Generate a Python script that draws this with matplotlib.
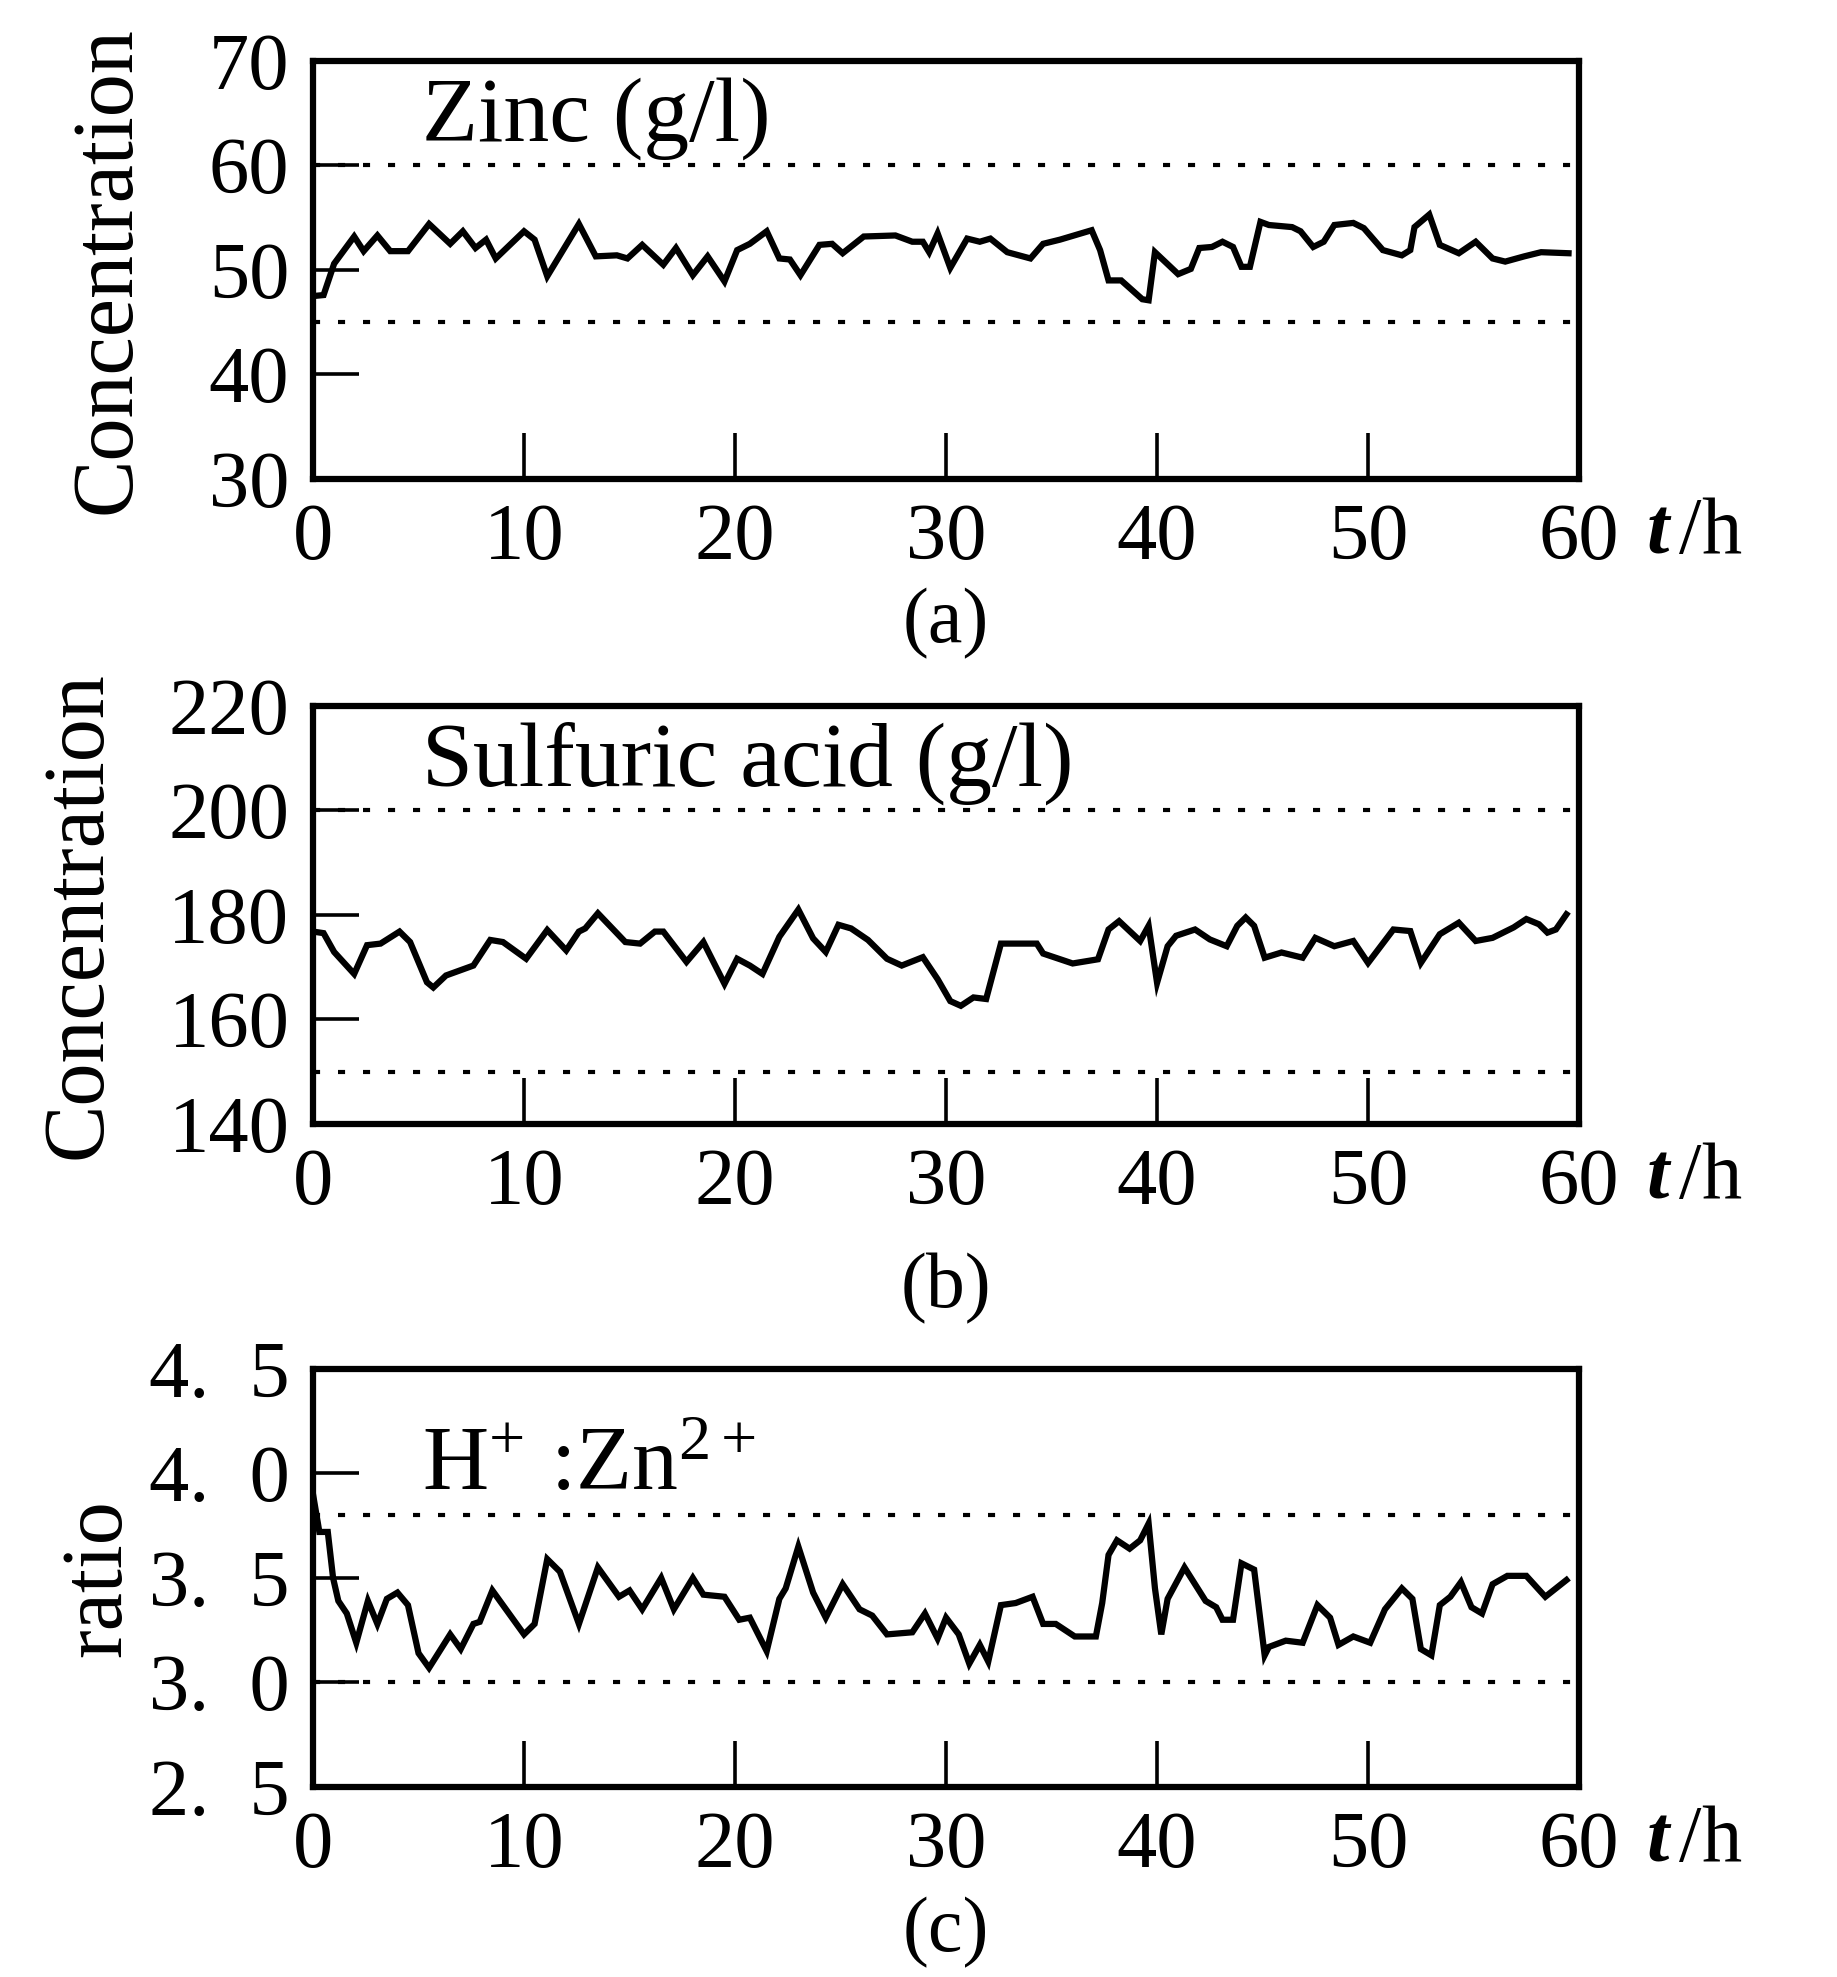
import matplotlib
matplotlib.use('Agg')
import matplotlib.pyplot as plt
import numpy as np

plt.rcParams['font.family'] = 'Liberation Serif'
plt.rcParams['mathtext.fontset'] = 'custom'
plt.rcParams['mathtext.rm'] = 'Liberation Serif'
plt.rcParams['mathtext.it'] = 'Liberation Serif:italic:bold'

# zinc concentration (g/l)
t_zinc = [0.0, 0.5, 1.0, 1.95, 2.4, 3.05, 3.66, 4.5, 5.5, 6.5, 7.1, 7.7, 8.2, 8.66,
          10.0, 10.5, 11.1, 12.6, 13.4, 14.4, 14.9, 15.6, 16.6, 17.2, 18.0, 18.7,
          19.5, 20.1, 20.7, 21.5, 22.1, 22.6, 23.1, 24.0, 24.6, 25.1, 26.1, 27.6,
          28.4, 28.9, 29.2, 29.6, 30.2, 31.0, 31.6, 32.1, 32.9, 34.0, 34.6, 35.4,
          36.9, 37.3, 37.7, 38.3, 39.3, 39.6, 39.9, 41.0, 41.6, 42.0, 42.6, 43.1,
          43.6, 44.0, 44.4, 44.9, 45.3, 46.4, 46.8, 47.4, 47.9, 48.4, 49.3, 49.8,
          50.7, 51.6, 52.0, 52.2, 52.9, 53.4, 54.3, 55.1, 55.9, 56.5, 57.4, 58.2, 59.5]
zinc = [47.5, 47.6, 50.6, 53.2, 51.8, 53.3, 51.8, 51.8, 54.4, 52.5, 53.7, 52.1, 52.9, 51.1,
        53.7, 52.9, 49.4, 54.4, 51.3, 51.4, 51.1, 52.4, 50.5, 52.1, 49.5, 51.3,
        48.9, 51.9, 52.5, 53.7, 51.1, 51.0, 49.5, 52.4, 52.5, 51.6, 53.2, 53.3,
        52.7, 52.7, 51.7, 53.5, 50.2, 53.0, 52.7, 53.0, 51.7, 51.1, 52.5, 52.9,
        53.8, 51.9, 49.0, 49.0, 47.2, 47.1, 51.7, 49.6, 50.1, 52.1, 52.2, 52.7,
        52.2, 50.3, 50.3, 54.6, 54.3, 54.1, 53.7, 52.2, 52.7, 54.3, 54.5, 54.0,
        51.9, 51.4, 51.9, 54.1, 55.3, 52.4, 51.6, 52.7, 51.1, 50.8, 51.3, 51.7, 51.6]

# sulfuric acid concentration (g/l)
t_acid = [0.0, 0.5, 1.0, 1.95, 2.56, 3.2, 4.1, 4.6, 5.4, 5.7, 6.3, 7.6, 8.4, 9.0,
          10.1, 11.1, 12.0, 12.6, 12.9, 13.5, 14.8, 15.5, 16.2, 16.6, 17.7, 18.5,
          19.5, 20.1, 20.7, 21.3, 22.1, 23.0, 23.7, 24.3, 24.9, 25.5, 26.3, 27.2,
          27.9, 28.9, 29.6, 30.2, 30.7, 31.3, 31.9, 32.6, 34.3, 34.6, 36.0, 37.2,
          37.7, 38.2, 39.2, 39.6, 40.0, 40.5, 40.9, 41.8, 42.5, 43.3, 43.8, 44.2,
          44.6, 45.1, 45.9, 46.9, 47.5, 48.4, 49.3, 50.0, 51.2, 52.0, 52.5, 53.4,
          54.3, 55.1, 55.9, 56.9, 57.5, 58.1, 58.5, 58.9, 59.4]
acid = [176.8, 176.5, 172.9, 168.7, 174.2, 174.5, 176.8, 174.8, 167.1, 166.1, 168.4, 170.3, 175.2, 174.8,
        171.6, 177.1, 173.2, 176.8, 177.4, 180.3, 174.8, 174.5, 176.8, 176.8, 171.0, 174.8,
        166.8, 171.6, 170.3, 168.7, 175.8, 181.0, 175.5, 172.9, 178.1, 177.4, 175.2, 171.6,
        170.3, 171.9, 167.7, 163.5, 162.6, 164.2, 163.9, 174.5, 174.5, 172.6, 170.7, 171.5,
        177.2, 178.8, 175.0, 177.9, 167.0, 174.0, 176.0, 177.2, 175.3, 174.0, 177.9, 179.5,
        177.9, 171.8, 172.8, 171.8, 175.6, 174.0, 175.0, 170.8, 177.2, 176.9, 170.8, 176.3,
        178.5, 175.0, 175.6, 177.6, 179.2, 178.2, 176.6, 177.2, 180.1]

# H+ : Zn2+ ratio
t_ratio = [0.0, 0.3, 0.7, 0.95, 1.2, 1.6, 2.05, 2.6, 3.05, 3.5, 4.0, 4.5, 5.0, 5.5, 6.5,
           7.0, 7.6, 7.9, 8.5, 10.0, 10.5, 11.1, 11.7, 12.6, 13.5, 14.5, 15.0, 15.6,
           16.5, 17.1, 18.0, 18.5, 19.5, 20.2, 20.7, 21.5, 22.1, 22.4, 23.0, 23.7,
           24.3, 25.1, 25.9, 26.5, 27.2, 28.4, 29.0, 29.6, 30.0, 30.6, 31.1, 31.6,
           32.0, 32.6, 33.3, 34.1, 34.6, 35.2, 36.1, 37.1, 37.4, 37.7, 38.1, 38.7,
           39.2, 39.6, 39.9, 40.2, 40.5, 41.3, 42.3, 42.8, 43.1, 43.6, 44.0, 44.6,
           45.1, 45.3, 46.1, 46.9, 47.6, 48.2, 48.6, 49.3, 50.1, 50.8, 51.6, 52.1,
           52.5, 53.0, 53.4, 53.9, 54.4, 54.9, 55.4, 55.9, 56.6, 57.5, 58.4, 59.4]
ratio = [3.90, 3.72, 3.72, 3.50, 3.39, 3.33, 3.19, 3.39, 3.28, 3.40, 3.43, 3.37, 3.14, 3.07, 3.23,
         3.16, 3.28, 3.29, 3.44, 3.23, 3.28, 3.59, 3.53, 3.28, 3.55, 3.41, 3.44, 3.35,
         3.50, 3.35, 3.50, 3.42, 3.41, 3.30, 3.31, 3.15, 3.40, 3.45, 3.65, 3.43,
         3.31, 3.47, 3.35, 3.32, 3.23, 3.24, 3.33, 3.21, 3.31, 3.23, 3.09, 3.18,
         3.10, 3.37, 3.38, 3.41, 3.28, 3.28, 3.22, 3.22, 3.38, 3.61, 3.68, 3.64,
         3.68, 3.76, 3.45, 3.23, 3.40, 3.55, 3.39, 3.36, 3.30, 3.30, 3.57, 3.54,
         3.13, 3.17, 3.20, 3.19, 3.37, 3.31, 3.18, 3.22, 3.19, 3.35, 3.45, 3.40,
         3.16, 3.13, 3.37, 3.41, 3.48, 3.36, 3.33, 3.47, 3.51, 3.51, 3.41, 3.49]

xticks = [0, 10, 20, 30, 40, 50, 60]
yticks_a = [30, 40, 50, 60, 70]
yticks_b = [140, 160, 180, 200, 220]
yticks_c = [2.5, 3.0, 3.5, 4.0, 4.5]
ylabels_c = ['2.  5', '3.  0', '3.  5', '4.  0', '4.  5']
limits_a = [45, 60]
limits_b = [150, 200]
limits_c = [3.0, 3.8]

fig = plt.figure(figsize=(18.37, 19.77), dpi=100)

panels = [
    dict(t=t_zinc, y=zinc, yt=yticks_a, yl=[str(v) for v in yticks_a], lim=limits_a,
         name='Zinc (g/l)', ylab='Concentration', cap='(a)', pos=0.7577, labx=-0.13, namey=0.81),
    dict(t=t_acid, y=acid, yt=yticks_b, yl=[str(v) for v in yticks_b], lim=limits_b,
         name='Sulfuric acid (g/l)', ylab='Concentration', cap='(b)', pos=0.4315, labx=-0.153, namey=0.81),
    dict(t=t_ratio, y=ratio, yt=yticks_c, yl=ylabels_c, lim=limits_c,
         name=r'H$^{+}$ :Zn$^{2+}$', ylab='ratio', cap='(c)', pos=0.0961, labx=-0.137, namey=0.71),
]
cap_y = [0.6844, 0.348, 0.0225]

for i, p in enumerate(panels):
    ax = fig.add_axes([0.1704, p['pos'], 0.6892, 0.2115])
    ax.plot(p['t'], p['y'], color='black', lw=4.5, solid_joinstyle='miter')
    for lev in p['lim']:
        ax.axhline(lev, color='black', lw=3.0, dashes=(1.7, 4.3))
    ax.set_xlim(0, 60)
    ax.set_ylim(p['yt'][0], p['yt'][-1])
    ax.set_xticks(xticks)
    ax.set_xticklabels([str(v) for v in xticks])
    ax.set_yticks(p['yt'])
    ax.set_yticklabels(p['yl'])
    ax.tick_params(direction='in', length=33, width=2.6, labelsize=58)
    ax.tick_params(axis='x', pad=17)
    ax.tick_params(axis='y', pad=17)
    for s in ax.spines.values():
        s.set_linewidth(4.5)
    ax.set_ylabel(p['ylab'], fontsize=62)
    ax.yaxis.set_label_coords(p['labx'], 0.5)
    ax.text(0.086, p['namey'], p['name'], transform=ax.transAxes, fontsize=66, va='baseline')
    ax.text(1.053, -0.13, r'$t\,$/h', transform=ax.transAxes, fontsize=58, va='center')
    fig.text(0.515, cap_y[i], p['cap'], fontsize=56, ha='center', va='center')

fig.savefig('out.png', dpi=100)
